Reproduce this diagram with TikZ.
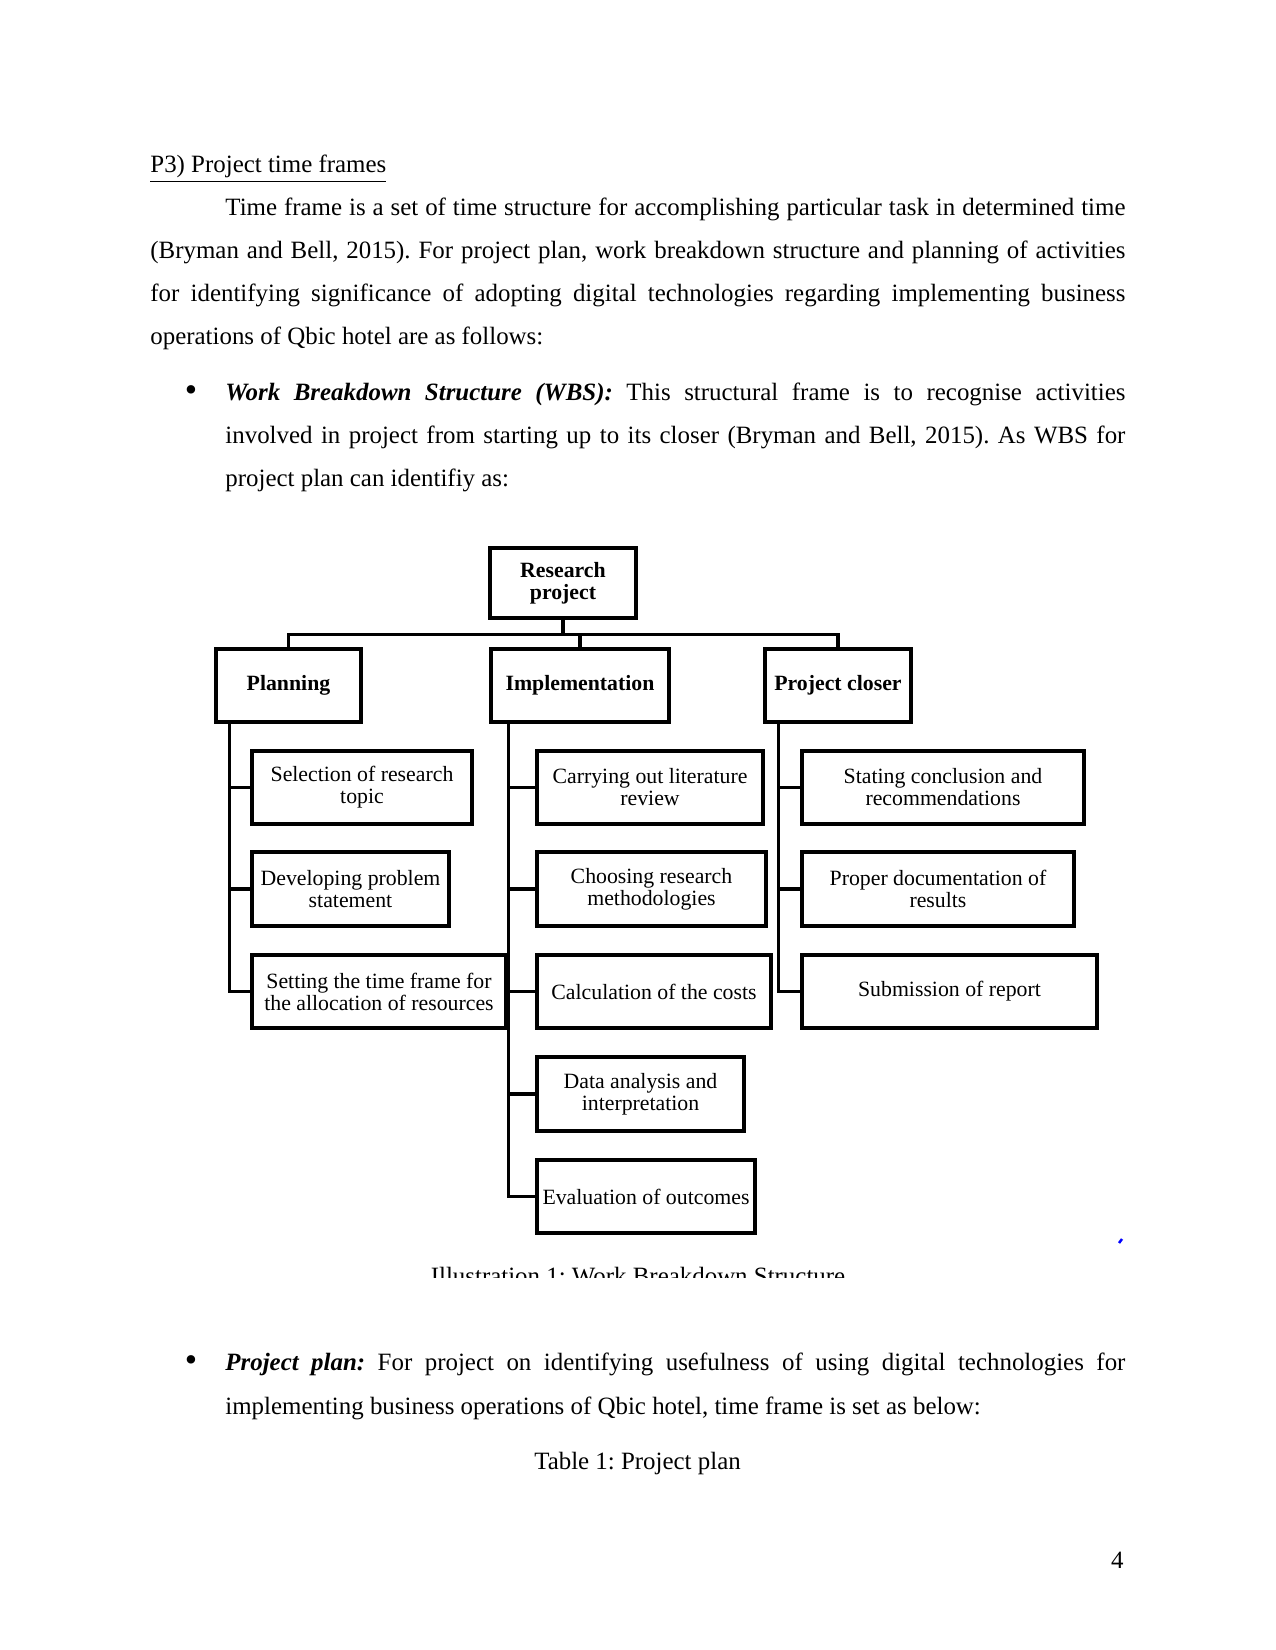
\documentclass[tikz,border=0pt]{standalone}
\usepackage{fontspec}
\setmainfont{Liberation Serif}
\usetikzlibrary{calc}
\newlength\pxl
\setlength\pxl{0.48181pt}
\newcommand\bodyfont{\fontsize{12}{14}\selectfont\frenchspacing}
\newcommand\boxfont{\fontsize{10.5}{10.6}\selectfont}
\newcommand\justline[2]{\makebox[#1\pxl][s]{#2}}
\tikzset{
 bodytext/.style={anchor=base west,inner sep=0,font=\bodyfont},
 bulletmark/.style={anchor=base,inner sep=0,font=\fontsize{17}{17}\selectfont},
 wbsbox/.style={draw,line width=1.6pt,inner sep=1pt,align=center,font=\boxfont},
 headbox/.style={wbsbox,font=\boxfont\bfseries},
 branch/.style={line width=1.6pt}
}
\begin{document}
\begin{tikzpicture}[x=1in/150,y=-1in/150]
\useasboundingbox (0,0) rectangle (1275,1650);
% text above the chart
\node[bodytext] (head) at (150,173) {\underline{P3) Project time frames}};
\node[bodytext] (p1) at (225,216) {\justline{900}{Time frame is a set of time structure for accomplishing particular task in determined time}};
\node[bodytext] (p2) at (150,259) {\justline{975}{(Bryman and Bell, 2015). For project plan, work breakdown structure and planning of activities}};
\node[bodytext] (p3) at (150,302) {\justline{975}{for identifying significance of adopting digital technologies regarding implementing business}};
\node[bodytext] (p4) at (150,345) {operations of Qbic hotel are as follows:};
\node[bulletmark] (dot1) at (191,402) {•};
\node[bodytext] (b1) at (225,401) {\justline{900}{\textbf{\textit{Work Breakdown Structure (WBS):}} This structural frame is to recognise activities}};
\node[bodytext] (b2) at (225,444) {\justline{900}{involved in project from starting up to its closer (Bryman and Bell, 2015). As WBS for}};
\node[bodytext] (b3) at (225,487) {project plan can identifiy as:};

% WBS chart
\node[headbox,minimum width=146*\pxl,minimum height=70*\pxl] (rp) at (563,583) {Research\\project};
\node[headbox,minimum width=145*\pxl,minimum height=73*\pxl] (plan) at (288.5,685.5) {Planning};
\node[headbox,minimum width=178*\pxl,minimum height=73*\pxl] (impl) at (580,685.5) {Implementation};
\node[headbox,minimum width=146*\pxl,minimum height=73*\pxl] (close) at (838,685.5) {Project closer};

\node[wbsbox,minimum width=220*\pxl,minimum height=73*\pxl] (sel) at (362,787.5) {Selection of research\\topic};
\node[wbsbox,minimum width=197*\pxl,minimum height=74*\pxl] (dev) at (350.5,889) {Developing problem\\statement};
\node[wbsbox,minimum width=254*\pxl,minimum height=73*\pxl] (set) at (379,991.5) {Setting the time frame for\\the allocation of resources};

\node[wbsbox,minimum width=226*\pxl,minimum height=73*\pxl] (lit) at (650,787.5) {Carrying out literature\\review};
\node[wbsbox,minimum width=229*\pxl,minimum height=74*\pxl] (meth) at (651.5,889) {Choosing research\\methodologies};
\node[wbsbox,minimum width=234*\pxl,minimum height=73*\pxl] (cost) at (654,991.5) {Calculation of the costs};
\node[wbsbox,minimum width=207*\pxl,minimum height=74*\pxl] (data) at (640.5,1094) {Data analysis and\\interpretation};
\node[wbsbox,minimum width=218*\pxl,minimum height=73*\pxl] (eval) at (646,1196.5) {Evaluation of outcomes};

\node[wbsbox,minimum width=282*\pxl,minimum height=73*\pxl] (concl) at (943,787.5) {Stating conclusion and\\recommendations};
\node[wbsbox,minimum width=272*\pxl,minimum height=74*\pxl] (doc) at (938,889) {Proper documentation of\\results};
\node[wbsbox,minimum width=295*\pxl,minimum height=73*\pxl] (subm) at (949.5,991.5) {Submission of report};

\foreach \top in {plan,impl,close}
 \draw[branch] (rp.south) -- ++(0,15) -| (\top.north);
\foreach \c in {sel,dev,set}
 \draw[branch] ([xshift=15*\pxl]plan.south west) |- (\c.west);
\foreach \c in {lit,meth,cost,data,eval}
 \draw[branch] ([xshift=19*\pxl]impl.south west) |- (\c.west);
\foreach \c in {concl,doc,subm}
 \draw[branch] ([xshift=15*\pxl]close.south west) |- (\c.west);

\draw[blue,line width=1.2pt] (1119,1243) -- (1122,1239);
\begin{scope}
 \clip (0,0) rectangle (1275,1277);
 \node[bodytext,anchor=base] (capt) at (638,1284) {Illustration 1: Work Breakdown Structure};
\end{scope}

% text below the chart
\node[bulletmark] (dot2) at (191,1371) {•};
\node[bodytext] (c1) at (225,1370) {\justline{900}{\textbf{\textit{Project plan:}} For project on identifying usefulness of using digital technologies for}};
\node[bodytext] (c2) at (225,1414) {implementing business operations of Qbic hotel, time frame is set as below:};
\node[bodytext,anchor=base] (tab) at (637.5,1469) {Table 1: Project plan};
\node[bodytext,anchor=base east] (pgno) at (1124,1568) {4};
\end{tikzpicture}
\end{document}
